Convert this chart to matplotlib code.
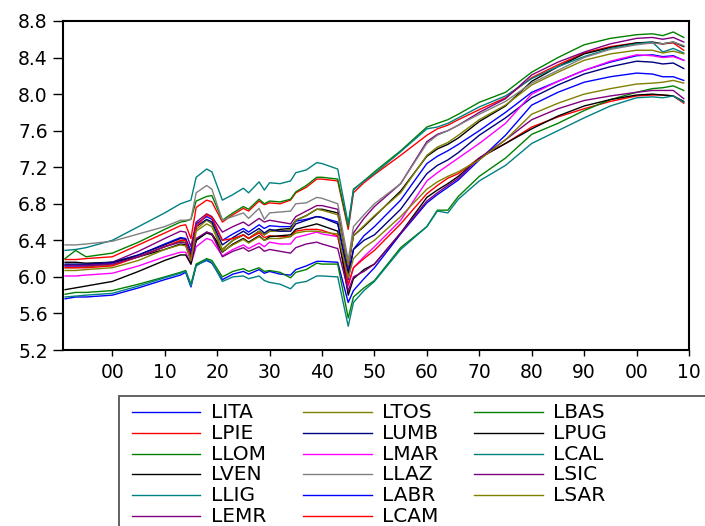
import matplotlib
matplotlib.use("Agg")
import matplotlib.pyplot as plt
from matplotlib.lines import Line2D
from matplotlib.patches import Rectangle

plt.rcParams['font.family'] = ['DejaVu Sans']

YEARS = [1891, 1893, 1895, 1900, 1905, 1910, 1913, 1914, 1915, 1916, 1918, 1919,
         1921, 1923, 1925, 1926, 1928, 1929, 1930, 1932, 1934, 1935, 1937, 1939,
         1940, 1943, 1945, 1946, 1948, 1950, 1955, 1960, 1962, 1964, 1966, 1970,
         1975, 1980, 1985, 1990, 1995, 2000, 2003, 2005, 2007, 2009]

LITA = [6.12, 6.12, 6.12, 6.15, 6.24, 6.36, 6.43, 6.42, 6.28, 6.58, 6.66, 6.63, 6.40, 6.47, 6.53, 6.49, 6.57, 6.53, 6.56, 6.55, 6.55, 6.61, 6.63, 6.66, 6.65, 6.60, 5.97, 6.30, 6.45, 6.55, 6.84, 7.24, 7.32, 7.38, 7.45, 7.60, 7.80, 8.02, 8.14, 8.26, 8.35, 8.42, 8.43, 8.41, 8.42, 8.37]
LPIE = [6.19, 6.19, 6.20, 6.22, 6.35, 6.48, 6.56, 6.57, 6.42, 6.76, 6.84, 6.82, 6.60, 6.68, 6.75, 6.72, 6.83, 6.79, 6.81, 6.80, 6.84, 6.92, 6.98, 7.07, 7.07, 7.05, 6.52, 6.92, 7.03, 7.12, 7.33, 7.55, 7.62, 7.66, 7.72, 7.83, 7.96, 8.18, 8.32, 8.45, 8.52, 8.56, 8.56, 8.55, 8.56, 8.48]
LLOM = [6.20, 6.29, 6.22, 6.26, 6.38, 6.52, 6.60, 6.61, 6.63, 6.83, 6.88, 6.89, 6.62, 6.70, 6.77, 6.74, 6.85, 6.80, 6.83, 6.82, 6.85, 6.93, 7.00, 7.09, 7.09, 7.07, 6.55, 6.96, 7.05, 7.15, 7.38, 7.64, 7.68, 7.72, 7.78, 7.91, 8.02, 8.24, 8.40, 8.54, 8.61, 8.65, 8.66, 8.64, 8.68, 8.62]
LVEN = [6.16, 6.16, 6.15, 6.16, 6.22, 6.30, 6.36, 6.35, 6.18, 6.40, 6.49, 6.47, 6.30, 6.40, 6.46, 6.42, 6.50, 6.46, 6.50, 6.52, 6.53, 6.62, 6.67, 6.74, 6.74, 6.70, 6.12, 6.45, 6.55, 6.66, 6.94, 7.32, 7.40, 7.45, 7.52, 7.70, 7.87, 8.14, 8.30, 8.44, 8.51, 8.56, 8.57, 8.55, 8.57, 8.52]
LLIG = [6.29, 6.30, 6.32, 6.40, 6.55, 6.70, 6.80, 6.82, 6.84, 7.09, 7.18, 7.15, 6.84, 6.90, 6.97, 6.92, 7.04, 6.95, 7.03, 7.02, 7.05, 7.14, 7.17, 7.25, 7.24, 7.18, 6.58, 6.95, 7.05, 7.13, 7.37, 7.62, 7.64, 7.68, 7.74, 7.86, 7.98, 8.17, 8.30, 8.41, 8.50, 8.55, 8.57, 8.46, 8.50, 8.45]
LEMR = [6.13, 6.13, 6.13, 6.16, 6.28, 6.42, 6.50, 6.49, 6.33, 6.60, 6.69, 6.66, 6.49, 6.55, 6.60, 6.56, 6.64, 6.60, 6.62, 6.60, 6.58, 6.66, 6.72, 6.78, 6.78, 6.74, 6.08, 6.48, 6.64, 6.77, 7.02, 7.48, 7.56, 7.60, 7.66, 7.80, 7.95, 8.21, 8.35, 8.46, 8.55, 8.61, 8.62, 8.60, 8.62, 8.57]
LTOS = [6.10, 6.10, 6.11, 6.13, 6.22, 6.33, 6.39, 6.38, 6.20, 6.52, 6.62, 6.58, 6.30, 6.40, 6.46, 6.42, 6.50, 6.46, 6.50, 6.50, 6.52, 6.62, 6.67, 6.74, 6.73, 6.68, 6.13, 6.45, 6.56, 6.67, 6.92, 7.33, 7.42, 7.47, 7.55, 7.72, 7.88, 8.10, 8.24, 8.37, 8.44, 8.48, 8.48, 8.45, 8.47, 8.44]
LUMB = [6.14, 6.14, 6.14, 6.16, 6.24, 6.35, 6.42, 6.41, 6.24, 6.55, 6.63, 6.60, 6.35, 6.43, 6.50, 6.46, 6.53, 6.48, 6.52, 6.50, 6.50, 6.58, 6.62, 6.66, 6.65, 6.58, 6.04, 6.30, 6.40, 6.46, 6.74, 7.13, 7.22, 7.28, 7.36, 7.55, 7.74, 7.96, 8.10, 8.22, 8.30, 8.36, 8.35, 8.33, 8.34, 8.28]
LMAR = [6.01, 6.01, 6.02, 6.04, 6.12, 6.22, 6.27, 6.27, 6.14, 6.33, 6.42, 6.40, 6.23, 6.30, 6.35, 6.31, 6.37, 6.33, 6.38, 6.36, 6.36, 6.43, 6.46, 6.49, 6.47, 6.44, 5.90, 6.10, 6.22, 6.33, 6.62, 7.05, 7.14, 7.22, 7.30, 7.46, 7.68, 8.00, 8.14, 8.26, 8.36, 8.43, 8.42, 8.40, 8.41, 8.37]
LLAZ = [6.35, 6.35, 6.36, 6.39, 6.47, 6.55, 6.62, 6.62, 6.63, 6.92, 7.00, 6.96, 6.62, 6.66, 6.70, 6.64, 6.75, 6.63, 6.70, 6.71, 6.72, 6.80, 6.81, 6.87, 6.86, 6.80, 6.18, 6.55, 6.68, 6.80, 7.02, 7.46, 7.55, 7.60, 7.66, 7.78, 7.92, 8.12, 8.26, 8.40, 8.49, 8.54, 8.56, 8.55, 8.57, 8.53]
LABR = [5.76, 5.78, 5.78, 5.80, 5.88, 5.97, 6.02, 6.05, 5.89, 6.13, 6.18, 6.15, 5.97, 6.03, 6.06, 6.03, 6.08, 6.04, 6.06, 6.03, 6.02, 6.08, 6.12, 6.17, 6.17, 6.16, 5.72, 5.85, 5.98, 6.10, 6.47, 6.81, 6.90, 6.98, 7.06, 7.28, 7.55, 7.88, 8.02, 8.13, 8.19, 8.23, 8.22, 8.19, 8.19, 8.15]
LCAM = [6.10, 6.10, 6.10, 6.12, 6.22, 6.33, 6.40, 6.40, 6.20, 6.55, 6.68, 6.65, 6.40, 6.42, 6.46, 6.42, 6.48, 6.43, 6.45, 6.44, 6.44, 6.50, 6.52, 6.52, 6.51, 6.45, 5.92, 6.10, 6.20, 6.29, 6.58, 6.91, 7.00, 7.08, 7.13, 7.30, 7.46, 7.64, 7.75, 7.84, 7.92, 7.98, 7.99, 7.99, 7.98, 7.90]
LBAS = [5.81, 5.83, 5.83, 5.85, 5.92, 6.00, 6.05, 6.07, 5.92, 6.14, 6.20, 6.18, 6.00, 6.06, 6.09, 6.06, 6.10, 6.06, 6.07, 6.05, 5.99, 6.05, 6.08, 6.15, 6.14, 6.14, 5.55, 5.78, 5.88, 5.96, 6.32, 6.55, 6.73, 6.73, 6.88, 7.10, 7.30, 7.56, 7.68, 7.82, 7.94, 8.02, 8.06, 8.07, 8.09, 8.04]
LPUG = [5.86, 5.88, 5.90, 5.95, 6.06, 6.18, 6.24, 6.24, 6.14, 6.40, 6.48, 6.46, 6.27, 6.36, 6.42, 6.38, 6.45, 6.40, 6.44, 6.45, 6.46, 6.52, 6.55, 6.58, 6.56, 6.50, 5.80, 5.98, 6.08, 6.14, 6.48, 6.87, 6.95, 7.02, 7.10, 7.30, 7.46, 7.62, 7.76, 7.87, 7.94, 7.99, 8.00, 7.99, 7.98, 7.92]
LCAL = [5.78, 5.79, 5.80, 5.82, 5.90, 5.99, 6.04, 6.06, 5.90, 6.12, 6.19, 6.16, 5.95, 6.00, 6.01, 5.98, 6.01, 5.96, 5.94, 5.92, 5.87, 5.93, 5.95, 6.01, 6.01, 6.00, 5.46, 5.72, 5.85, 5.95, 6.30, 6.55, 6.72, 6.70, 6.85, 7.05, 7.22, 7.46, 7.60, 7.74, 7.87, 7.96, 7.97, 7.96, 7.98, 7.91]
LSIC = [6.12, 6.12, 6.12, 6.14, 6.22, 6.33, 6.38, 6.37, 6.18, 6.42, 6.49, 6.47, 6.22, 6.28, 6.32, 6.28, 6.33, 6.28, 6.30, 6.28, 6.26, 6.32, 6.36, 6.38, 6.36, 6.31, 5.85, 6.00, 6.06, 6.14, 6.48, 6.83, 6.92, 7.00, 7.08, 7.30, 7.50, 7.72, 7.84, 7.93, 7.98, 8.02, 8.04, 8.04, 8.04, 7.95]
LSAR = [6.07, 6.07, 6.08, 6.10, 6.18, 6.30, 6.35, 6.34, 6.18, 6.50, 6.58, 6.55, 6.28, 6.35, 6.41, 6.37, 6.44, 6.40, 6.42, 6.42, 6.44, 6.48, 6.50, 6.50, 6.49, 6.47, 5.99, 6.20, 6.32, 6.40, 6.66, 6.96, 7.04, 7.10, 7.15, 7.28, 7.50, 7.78, 7.90, 8.00, 8.06, 8.11, 8.12, 8.13, 8.15, 8.12]

SERIES_NAMES = ["LITA", "LPIE", "LLOM", "LVEN", "LLIG", "LEMR",
                "LTOS", "LUMB", "LMAR", "LLAZ", "LABR", "LCAM",
                "LBAS", "LPUG", "LCAL", "LSIC", "LSAR"]
SERIES_VALUES = [LITA, LPIE, LLOM, LVEN, LLIG, LEMR,
                 LTOS, LUMB, LMAR, LLAZ, LABR, LCAM,
                 LBAS, LPUG, LCAL, LSIC, LSAR]
COLORS = ["#0000ff", "#ff0000", "#008000", "#000000", "#008080", "#800080",
          "#808000", "#000080", "#ff00ff", "#808080", "#0000ff", "#ff0000",
          "#008000", "#000000", "#008080", "#800080", "#808000"]

Y_TICKS = [5.2, 5.6, 6.0, 6.4, 6.8, 7.2, 7.6, 8.0, 8.4, 8.8]
X_TICKS = [1900, 1910, 1920, 1930, 1940, 1950, 1960, 1970, 1980, 1990, 2000, 2010]
X_LABELS = ["00", "10", "20", "30", "40", "50", "60", "70", "80", "90", "00", "10"]

W, H = 705, 526
fig = plt.figure(figsize=(W / 100, H / 100), dpi=100)
ax = fig.add_axes([63 / W, 1 - 350 / H, (689 - 63) / W, (350 - 21) / H])

for name, vals, col in zip(SERIES_NAMES, SERIES_VALUES, COLORS):
    ax.plot(YEARS, vals, color=col, lw=1.0, label=name)

ax.set_xlim(1890.6, 2010.0)
ax.set_ylim(5.2, 8.8)
ax.set_yticks(Y_TICKS)
ax.set_yticklabels([f"{v:.1f}" for v in Y_TICKS])
ax.set_xticks(X_TICKS)
ax.set_xticklabels(X_LABELS)
ax.tick_params(axis='y', direction='out', length=7, width=1, pad=4, labelsize=13.5)
ax.tick_params(axis='x', direction='out', length=4, width=1, pad=5, labelsize=13.5)
for s in ax.spines.values():
    s.set_linewidth(1.5)

def fx(px):
    return px / W

def fy(py):
    return 1 - py / H

# legend box, cut off at the right and bottom edges as in the reference
fig.add_artist(Rectangle((fx(119), fy(540)), fx(720) - fx(119), fy(396) - fy(540),
                         transform=fig.transFigure, fill=False, edgecolor='#555555', lw=1.3))
col_x = [131.7, 303.3, 474.3]
for i, (name, col) in enumerate(zip(SERIES_NAMES, COLORS)):
    c, r = divmod(i, 6)
    y = 412.3 + r * 20.7
    x0 = col_x[c]
    fig.add_artist(Line2D([fx(x0), fx(x0 + 68.3)], [fy(y), fy(y)], transform=fig.transFigure,
                          color=col, lw=1.0))
    fig.text(fx(x0 + 79), fy(y + 0.5), name, ha='left', va='center', fontsize=14.5)

fig.savefig("out.png", dpi=100)
